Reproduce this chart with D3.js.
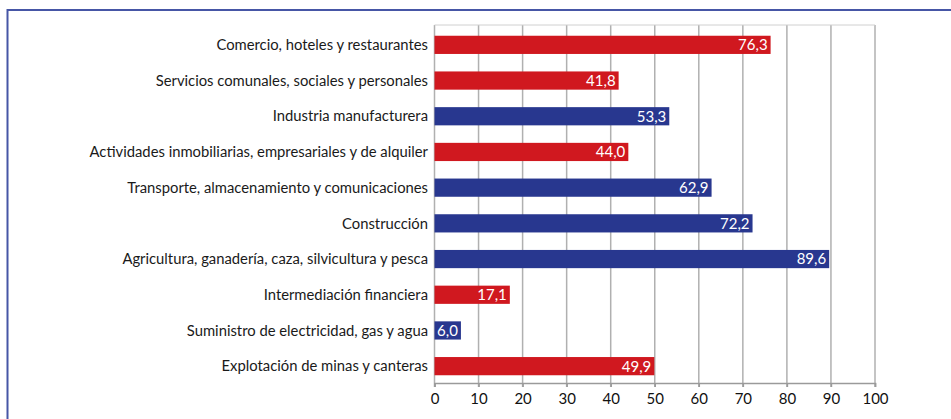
<!DOCTYPE html>
<html>
<head>
<meta charset="utf-8">
<script src="https://cdn.jsdelivr.net/npm/d3@7.9.0/dist/d3.min.js"></script>
<style>
  body { margin: 0; background: #fff; }
  svg { display: block; font-family: Lato, "Open Sans", sans-serif; }
</style>
</head>
<body>
<svg id="chart" width="951" height="419"></svg>
<script>
const sectors = [
  'Comercio, hoteles y restaurantes',
  'Servicios comunales, sociales y personales',
  'Industria manufacturera',
  'Actividades inmobiliarias, empresariales y de alquiler',
  'Transporte, almacenamiento y comunicaciones',
  'Construcción',
  'Agricultura, ganadería, caza, silvicultura y pesca',
  'Intermediación financiera',
  'Suministro de electricidad, gas y agua',
  'Explotación de minas y canteras'
];
const values = [76.3, 41.8, 53.3, 44.0, 62.9, 72.2, 89.6, 17.1, 6.0, 49.9];
const groups = ['r', 'r', 'b', 'r', 'b', 'b', 'b', 'r', 'b', 'r'];
const xTicks = [0, 10, 20, 30, 40, 50, 60, 70, 80, 90, 100];

const svg = d3.select('#chart');
const color = d3.scaleOrdinal().domain(['r', 'b']).range(['#d0181f', '#28378f']);

const x = d3.scaleLinear().domain([0, 100]).range([434.5, 875]);
const y = d3.scaleBand().domain(sectors).range([27, 384]).paddingInner(0.49).paddingOuter(0.245);
const axisY = 383;

// frame
svg.append('rect')
  .attr('x', 7.5).attr('y', 10)
  .attr('width', 1000).attr('height', 500)
  .attr('fill', 'none')
  .attr('stroke', '#4656a6')
  .attr('stroke-width', 2);

// gridlines
svg.append('g')
  .selectAll('line')
  .data(xTicks)
  .join('line')
  .attr('x1', d => x(d)).attr('x2', d => x(d))
  .attr('y1', 25).attr('y2', axisY + 4)
  .attr('stroke', '#b0b0b0')
  .attr('stroke-width', 1.5);

svg.append('line')
  .attr('x1', x(0)).attr('x2', x(100))
  .attr('y1', 25).attr('y2', 25)
  .attr('stroke', '#d0d0d0')
  .attr('stroke-width', 1);

// bars
svg.append('g')
  .selectAll('rect')
  .data(sectors)
  .join('rect')
  .attr('x', x(0))
  .attr('y', d => y(d))
  .attr('width', (d, i) => x(values[i]) - x(0))
  .attr('height', y.bandwidth())
  .attr('fill', (d, i) => color(groups[i]));

// value labels
svg.append('g')
  .selectAll('text')
  .data(sectors)
  .join('text')
  .attr('x', (d, i) => x(values[i]) - 3)
  .attr('y', d => y(d) + y.bandwidth() / 2)
  .attr('dy', '0.36em')
  .attr('text-anchor', 'end')
  .attr('fill', '#fff')
  .attr('font-size', 15)
  .text((d, i) => values[i].toFixed(1).replace('.', ','));

// x axis
const xAxis = svg.append('g')
  .attr('transform', `translate(0,${axisY})`)
  .call(d3.axisBottom(x).tickValues(xTicks).tickSize(4).tickPadding(6));
xAxis.select('.domain').attr('stroke', '#9a9a9a').attr('stroke-width', 1.5);
xAxis.selectAll('.tick line').attr('stroke', '#9a9a9a').attr('stroke-width', 1.5);
xAxis.selectAll('.tick text')
  .attr('font-family', 'Lato, sans-serif')
  .attr('font-size', 15)
  .attr('fill', '#111');

// category labels
svg.append('g')
  .selectAll('text')
  .data(sectors)
  .join('text')
  .attr('x', 428)
  .attr('y', d => y(d) + y.bandwidth() / 2)
  .attr('dy', '0.35em')
  .attr('text-anchor', 'end')
  .attr('fill', '#1a1a1a')
  .attr('font-size', 14.8)
  .text(d => d);
</script>
</body>
</html>
